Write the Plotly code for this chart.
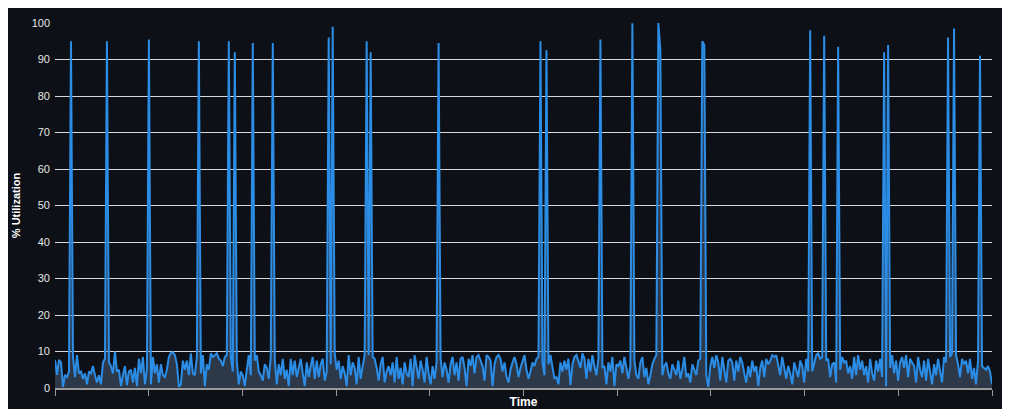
import plotly.graph_objects as go

# Baseline utilization (%), one value per sample
baseline = [
    7.7, 3.6, 7.7, 7.0, 0.3, 3.6, 3.0, 4.5, 6.0, 8.5,
    3.0, 9.0, 4.0, 4.5, 2.5, 4.0, 1.0, 4.5, 4.0, 6.0,
    3.5, 1.5, 3.5, 1.0, 7.0, 8.0, 6.5, 7.0, 6.0, 4.0,
    10.0, 4.5, 5.0, 0.5, 3.5, 6.0, 0.8, 4.5, 5.0, 1.5,
    5.5, 0.5, 8.0, 4.0, 8.5, 1.0, 5.0, 6.0, 1.0, 8.5,
    4.0, 6.5, 1.5, 6.5, 3.5, 3.0, 5.0, 8.5, 9.6, 9.8,
    9.0, 6.5, 0.3, 1.0, 7.5, 5.0, 7.5, 3.5, 9.5, 4.0,
    3.5, 8.5, 8.0, 4.0, 9.0, 0.5, 6.5, 5.0, 9.5, 8.5,
    9.0, 9.5, 8.0, 7.5, 6.0, 8.5, 9.0, 8.0, 8.5, 4.5,
    4.5, 7.5, 1.0, 4.5, 3.5, 0.5, 5.0, 9.0, 3.5, 9.0,
    7.5, 9.0, 4.5, 3.5, 2.0, 6.5, 5.5, 2.5, 8.5, 7.0,
    8.0, 1.0, 6.5, 3.5, 8.0, 2.5, 5.0, 0.5, 8.0, 3.5,
    7.5, 3.0, 5.5, 8.0, 4.0, 0.5, 7.0, 3.0, 6.0, 8.5,
    2.5, 7.5, 3.0, 6.5, 8.0, 2.0, 4.5, 9.0, 6.5, 8.0,
    9.5, 5.0, 7.5, 2.5, 6.0, 4.0, 0.5, 9.0, 3.5, 7.0,
    5.5, 1.0, 8.5, 2.5, 6.0, 9.0, 7.5, 9.0, 7.0, 8.5,
    8.0, 5.5, 2.0, 6.5, 8.5, 1.5, 4.5, 6.0, 3.5, 7.0,
    1.5, 8.5, 2.5, 5.5, 1.0, 7.0, 4.0, 3.0, 8.0, 0.5,
    9.0, 6.0, 2.5, 7.5, 5.0, 1.5, 8.5, 4.0, 1.0, 6.0,
    2.5, 7.0, 9.5, 8.0, 3.0, 7.0, 5.0, 1.5, 6.5, 8.5,
    3.5, 7.0, 2.0, 8.0, 8.5, 5.5, 0.5, 8.0, 6.0, 9.0,
    4.0, 8.5, 9.0, 7.5, 6.0, 2.0, 9.0, 8.5, 7.5, 0.5,
    6.5, 8.5, 9.0, 8.0, 4.5, 7.0, 3.0, 1.5, 5.0, 7.0,
    8.5, 6.5, 3.0, 5.5, 7.5, 9.0, 5.0, 2.5, 4.5, 7.0,
    6.0, 8.0, 8.5, 6.0, 7.0, 3.5, 8.0, 6.5, 9.0, 5.0,
    2.5, 3.0, 1.0, 7.0, 4.5, 7.5, 5.0, 8.0, 0.8, 6.5,
    8.5, 9.0, 7.0, 5.5, 9.5, 8.0, 2.5, 8.0, 4.5, 9.0,
    6.0, 3.5, 8.0, 7.5, 5.5, 6.0, 1.0, 7.0, 4.5, 8.5,
    0.5, 6.5, 6.0, 7.5, 4.0, 8.5, 5.5, 2.5, 6.0, 8.0,
    7.5, 3.5, 2.5, 7.0, 8.5, 3.0, 5.5, 1.0, 3.5, 6.5,
    8.0, 9.0, 7.5, 8.0, 3.5, 6.0, 7.0, 4.0, 2.5, 6.5,
    5.0, 3.5, 7.5, 2.5, 5.0, 8.5, 3.0, 4.0, 1.5, 6.5,
    5.0, 3.5, 7.5, 8.0, 9.0, 4.0, 3.5, 0.3, 6.0, 8.5,
    5.5, 9.0, 7.0, 2.0, 8.5, 5.5, 1.5, 7.5, 8.0, 7.0,
    2.0, 7.5, 4.5, 8.5, 7.0, 4.0, 1.5, 6.0, 3.0, 7.5,
    4.5, 6.0, 0.5, 5.5, 7.5, 3.0, 8.0, 6.5, 7.5, 9.0,
    8.5, 9.0, 6.5, 3.5, 8.5, 5.5, 2.5, 6.0, 4.0, 1.0,
    7.0, 5.0, 3.0, 7.5, 6.0, 1.5, 8.0, 4.5, 8.5, 4.5,
    6.5, 9.0, 9.5, 8.0, 8.5, 6.0, 7.5, 8.0, 3.0, 6.5,
    7.0, 1.5, 7.0, 5.0, 8.5, 7.0, 7.5, 4.0, 6.0, 2.5,
    8.5, 3.5, 9.0, 5.0, 7.5, 3.5, 6.0, 1.5, 8.0, 4.0,
    2.0, 7.5, 4.5, 8.0, 3.0, 6.5, 0.5, 7.0, 5.5, 9.0,
    4.0, 7.5, 2.0, 7.0, 8.5, 5.5, 9.0, 3.0, 8.0, 7.0,
    6.0, 1.5, 8.5, 5.0, 3.0, 7.5, 2.0, 8.0, 4.5, 1.0,
    6.5, 3.5, 8.0, 4.5, 1.5, 8.5, 7.0, 6.0, 8.5, 9.5,
    7.5, 9.0, 6.5, 3.0, 8.0, 6.5, 7.5, 4.0, 8.0, 2.5,
    5.5, 1.0, 7.5, 4.0, 6.0, 5.5, 5.0, 6.0, 4.5, 1.0,
]

# Spikes: sample index and utilization value
spike_idx = [8, 26, 47, 72, 87, 90, 99, 109, 137, 139, 156, 158, 192,
             243, 246, 273, 289, 302, 303, 324, 325, 378, 385, 392,
             415, 417, 447, 450, 463]
spike_val = [95, 95, 95.5, 95, 95, 92, 94.5, 94.5, 96, 99, 95, 92, 94.5,
             95, 92.5, 95.5, 99.9, 100, 92.5, 95, 94, 98, 96.5, 93.5,
             92, 94, 96, 98.5, 91]

util = list(baseline)
for i, v in zip(spike_idx, spike_val):
    util[i] = v
samples = list(range(len(util)))

y_ticks = list(range(0, 101, 10))
n_xticks = 11

BG = "#0d1117"
LINE = "#2b8de6"

fig = go.Figure()
fig.add_trace(go.Scatter(
    x=samples, y=util, mode="lines",
    line=dict(color=LINE, width=2),
    fill="tozeroy", fillcolor="rgba(96,122,156,0.38)",
    hoverinfo="y",
))

last = samples[-1]
fig.update_layout(
    width=994, height=401,
    paper_bgcolor=BG, plot_bgcolor=BG,
    margin=dict(l=47, r=10, t=15, b=21),
    showlegend=False,
    font=dict(family="Liberation Sans, Arial, sans-serif", color="#e6e6e6", size=11),
    xaxis=dict(
        range=[0, last], automargin=False,
        tickvals=[last * k / (n_xticks - 1) for k in range(n_xticks)],
        showticklabels=False,
        ticks="outside", ticklen=6, tickcolor="#9a9a9a", tickwidth=1,
        showgrid=False, zeroline=False,
        showline=True, linecolor="#9a9a9a", linewidth=2,
        title=dict(text="<b>Time</b>", font=dict(size=12, color="#ffffff"), standoff=4),
    ),
    yaxis=dict(
        range=[0, 100], automargin=False,
        tickvals=y_ticks,
        showgrid=True, gridcolor="#d8d8d8", gridwidth=1,
        zeroline=False, showline=False,
        ticks="", ticklabelstandoff=4,
        tickfont=dict(size=11, color="#e6e6e6"),
        title=dict(text="<b>% Utilization</b>", font=dict(size=11, color="#ffffff"), standoff=8),
    ),
)

fig.write_html("out.html")
